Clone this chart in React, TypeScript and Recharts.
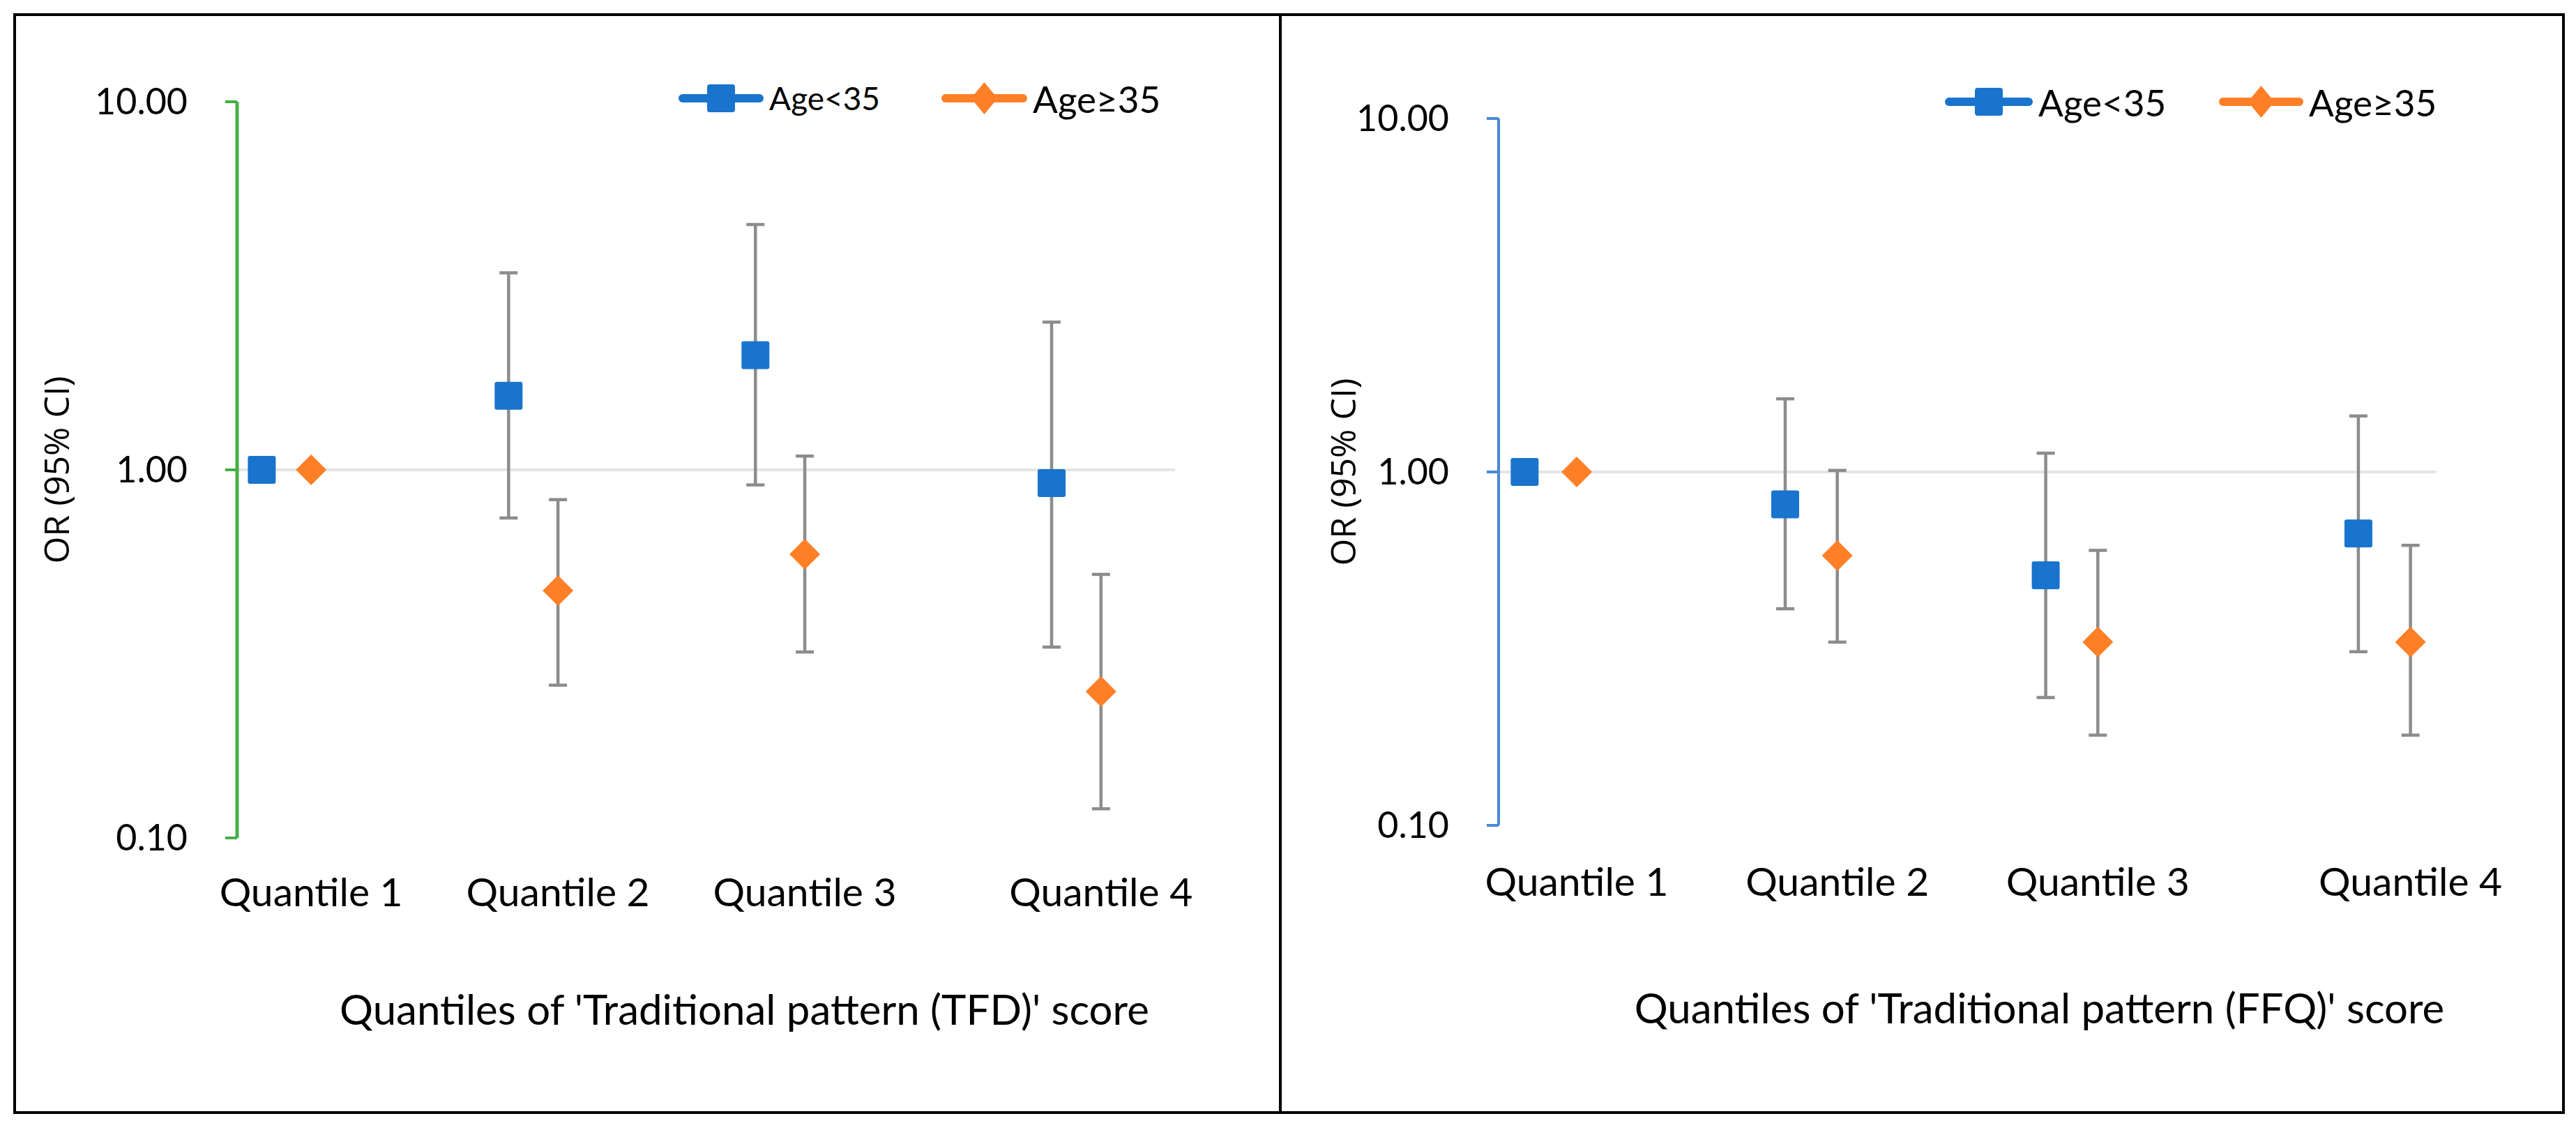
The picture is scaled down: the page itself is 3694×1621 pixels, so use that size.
import React from 'react';
import { ScatterChart, Scatter, XAxis, YAxis, ErrorBar, ReferenceLine, Legend, Label } from 'recharts';

// quantile tick positions on the numeric x axis (Q4 sits a bit further out)
const quantileLabels = ['Quantile 1', 'Quantile 2', 'Quantile 3', 'Quantile 4'];
const quantileTicks = [1, 2, 3, 4.2];
const youngX = [0.8, 1.8, 2.8, 4.0];
const olderX = [1, 2, 3, 4.2];
const yTicks = [0.1, 1, 10];

// Traditional pattern (TFD)
const tfdYoungOR = [1.0, 1.59, 2.05, 0.92];
const tfdYoungLo = [1.0, 0.74, 0.91, 0.33];
const tfdYoungHi = [1.0, 3.43, 4.64, 2.52];
const tfdOlderOR = [1.0, 0.47, 0.59, 0.25];
const tfdOlderLo = [1.0, 0.26, 0.32, 0.12];
const tfdOlderHi = [1.0, 0.83, 1.09, 0.52];

// Traditional pattern (FFQ)
const ffqYoungOR = [1.0, 0.81, 0.51, 0.67];
const ffqYoungLo = [1.0, 0.41, 0.23, 0.31];
const ffqYoungHi = [1.0, 1.61, 1.13, 1.44];
const ffqOlderOR = [1.0, 0.58, 0.33, 0.33];
const ffqOlderLo = [1.0, 0.33, 0.18, 0.18];
const ffqOlderHi = [1.0, 1.01, 0.6, 0.62];

const BLUE = '#1874CD';
const ORANGE = '#FF7F27';
const BAR = '#8C8C8C';
const FONT = 'Lato, "Open Sans", sans-serif';
const LABEL_FONT = '"Open Sans", sans-serif';

const toPoints = (xs: number[], or: number[], lo: number[], hi: number[]) =>
    xs.map((x, i) => ({ x, y: or[i], err: [or[i] - lo[i], hi[i] - or[i]] }));

const SquareDot = (props: any) => {
    const { cx, cy } = props;
    if (cx == null || cy == null) return null;
    return <rect x={cx - 20} y={cy - 20} width={40} height={40} rx={3} fill={BLUE} />;
};

const DiamondDot = (props: any) => {
    const { cx, cy } = props;
    if (cx == null || cy == null) return null;
    return <path d={`M${cx},${cy - 22}L${cx + 22},${cy}L${cx},${cy + 22}L${cx - 22},${cy}Z`} fill={ORANGE} />;
};

function LegendIcon({ kind, w }: { kind: number; w: number }) {
    const c = kind === 0 ? BLUE : ORANGE;
    const m = w / 2;
    return (
        <svg width={w} height={60} style={{ display: 'block' }}>
            <line x1={6} y1={30} x2={w - 6} y2={30} stroke={c} strokeWidth={12} strokeLinecap="round" />
            {kind === 0 ? (
                <rect x={m - 20} y={10} width={40} height={40} rx={4} fill={c} />
            ) : (
                <path d={`M${m},7L${m + 19},30L${m},53L${m - 19},30Z`} fill={c} />
            )}
        </svg>
    );
}

interface LegendSpot { x: number; w: number; size: number }

function PanelLegend({ payload, spots, cy }: any) {
    return (
        <div style={{ position: 'relative', width: '100%', height: '100%' }}>
            {(payload || []).map((entry: any, i: number) => {
                const s: LegendSpot = spots[i];
                return (
                    <div key={i} style={{ position: 'absolute', left: s.x, top: cy - 30, height: 60, display: 'flex', alignItems: 'center' }}>
                        <LegendIcon kind={i} w={s.w} />
                        <span style={{ marginLeft: 8, fontSize: s.size, fontFamily: FONT, color: '#000', lineHeight: 1, whiteSpace: 'nowrap' }}>
                            {entry.value}
                        </span>
                    </div>
                );
            })}
        </div>
    );
}

interface PanelProps {
    left: number;
    width: number;
    top: number;
    plotLeft: number;
    plotRight: number;
    plotBottom: number;
    xMax: number;
    axisColor: string;
    axisWidth: number;
    young: any[];
    older: any[];
    title: string;
    titleDx: number;
    titleDy: number;
    yLabelX: number;
    tickGap: number;
    legendSpots: LegendSpot[];
    legendY: number;
}

function Panel(p: PanelProps) {
    const height = 1621;
    return (
        <div style={{ position: 'absolute', left: p.left, top: 0 }}>
            <ScatterChart
                width={p.width}
                height={height}
                margin={{ top: p.top, right: p.width - p.plotRight, bottom: 0, left: 0 }}
            >
                <XAxis
                    type="number"
                    dataKey="x"
                    domain={[0.7, p.xMax]}
                    ticks={quantileTicks}
                    interval={0}
                    allowDataOverflow
                    height={height - p.plotBottom}
                    axisLine={false}
                    tickLine={false}
                    tickSize={0}
                    tickMargin={p.tickGap}
                    tickFormatter={(v: number) => quantileLabels[quantileTicks.indexOf(v)] ?? ''}
                    tick={{ fontSize: 57, fill: '#000', fontFamily: FONT }}
                >
                    <Label
                        content={(lp: any) => {
                            const vb = lp.viewBox || {};
                            return (
                                <text x={vb.x + vb.width / 2 + p.titleDx} y={vb.y + p.titleDy} textAnchor="middle" fontSize={60} fontFamily={FONT} fill="#000">
                                    {p.title}
                                </text>
                            );
                        }}
                    />
                </XAxis>
                <YAxis
                    type="number"
                    dataKey="y"
                    scale="log"
                    domain={[0.1, 10]}
                    ticks={yTicks}
                    allowDataOverflow
                    width={p.plotLeft}
                    axisLine={{ stroke: p.axisColor, strokeWidth: p.axisWidth }}
                    tickLine={{ stroke: p.axisColor, strokeWidth: 4 }}
                    tickSize={17}
                    tickMargin={54}
                    tickFormatter={(v: number) => v.toFixed(2)}
                    tick={{ fontSize: 52, fill: '#000', fontFamily: FONT }}
                >
                    <Label
                        content={(lp: any) => {
                            const vb = lp.viewBox || {};
                            const cx = vb.x + p.yLabelX;
                            const cy = vb.y + vb.height / 2;
                            return (
                                <text x={cx} y={cy} transform={`rotate(-90 ${cx} ${cy})`} textAnchor="middle" dominantBaseline="central" fontSize={50} fontFamily={LABEL_FONT} fill="#000">
                                    OR (95% CI)
                                </text>
                            );
                        }}
                    />
                </YAxis>
                <ReferenceLine y={1} stroke="#E4E4E4" strokeWidth={4} />
                <Legend
                    verticalAlign="middle"
                    align="center"
                    layout="horizontal"
                    wrapperStyle={{ top: 0, left: 0, width: p.width, height: 300 }}
                    content={(lp: any) => <PanelLegend payload={lp.payload} spots={p.legendSpots} cy={p.legendY} />}
                />
                <Scatter name="Age<35" data={p.young} fill={BLUE} shape={SquareDot} isAnimationActive={false}>
                    <ErrorBar dataKey="err" direction="y" width={13} stroke={BAR} strokeWidth={4.5} />
                </Scatter>
                <Scatter name="Age≥35" data={p.older} fill={ORANGE} shape={DiamondDot} isAnimationActive={false}>
                    <ErrorBar dataKey="err" direction="y" width={13} stroke={BAR} strokeWidth={4.5} />
                </Scatter>
            </ScatterChart>
        </div>
    );
}

export default function App() {
    return (
        <div style={{ position: 'absolute', left: 0, top: 0, width: 3694, height: 1621, background: '#fff', overflow: 'hidden' }}>
            <div style={{ position: 'absolute', left: 19, top: 19, width: 1819, height: 1579, border: '4px solid #000', boxSizing: 'border-box' }} />
            <div style={{ position: 'absolute', left: 1834, top: 19, width: 1844, height: 1579, border: '4px solid #000', boxSizing: 'border-box' }} />
            <Panel
                left={0}
                width={1838}
                top={146}
                plotLeft={340}
                plotRight={1685}
                plotBottom={1202}
                xMax={4.5}
                axisColor="#46AE46"
                axisWidth={5}
                young={toPoints(youngX, tfdYoungOR, tfdYoungLo, tfdYoungHi)}
                older={toPoints(olderX, tfdOlderOR, tfdOlderLo, tfdOlderHi)}
                title="Quantiles of 'Traditional pattern (TFD)' score"
                titleDx={55}
                titleDy={268}
                yLabelX={80}
                tickGap={58}
                legendSpots={[{ x: 973, w: 122, size: 46 }, { x: 1350, w: 123, size: 53 }]}
                legendY={141}
            />
            <Panel
                left={1838}
                width={1856}
                top={170}
                plotLeft={311}
                plotRight={1656}
                plotBottom={1184}
                xMax={4.3}
                axisColor="#4A88D6"
                axisWidth={4}
                young={toPoints(youngX, ffqYoungOR, ffqYoungLo, ffqYoungHi)}
                older={toPoints(olderX, ffqOlderOR, ffqOlderLo, ffqOlderHi)}
                title="Quantiles of 'Traditional pattern (FFQ)' score"
                titleDx={103}
                titleDy={284}
                yLabelX={87}
                tickGap={61}
                legendSpots={[{ x: 951, w: 126, size: 53 }, { x: 1344, w: 121, size: 53 }]}
                legendY={146}
            />
        </div>
    );
}
